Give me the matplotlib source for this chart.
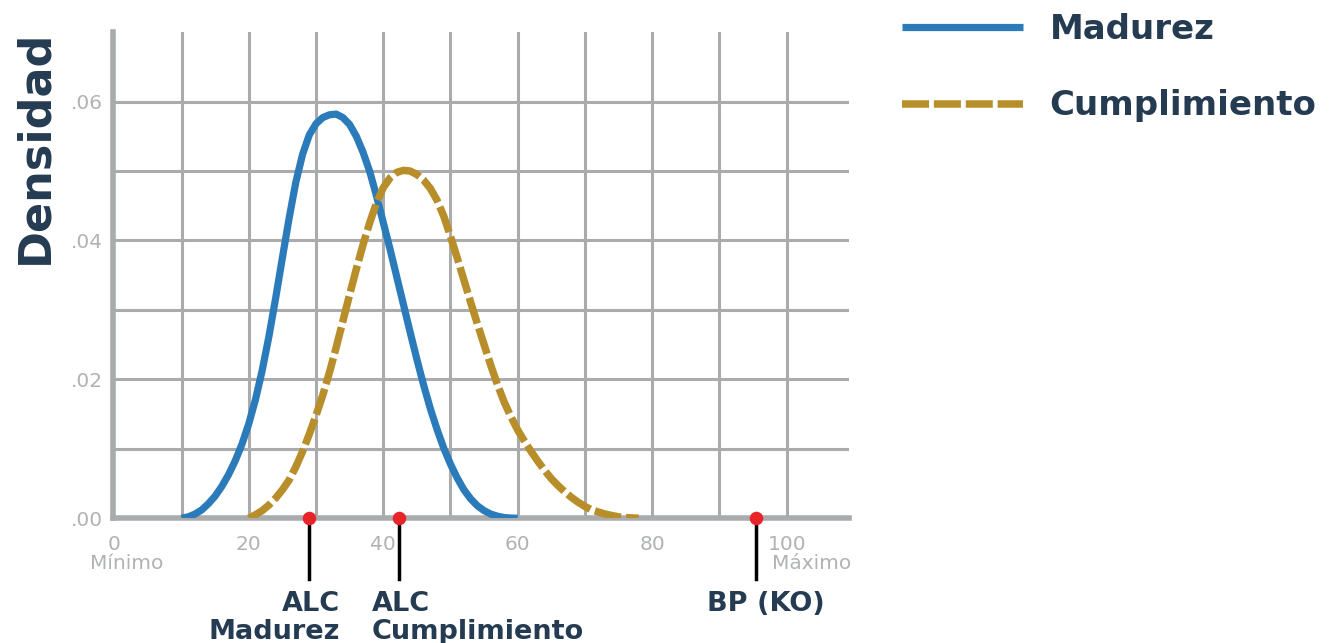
import matplotlib
matplotlib.use("Agg")
import matplotlib.pyplot as plt

plt.rcParams['font.family'] = ['DejaVu Sans']

# ---- data ----
madurez_x = list(range(10, 61))
madurez_y = [0.0, 0.0002, 0.0006, 0.0012, 0.0021, 0.0032, 0.0046, 0.0063, 0.0083, 0.0107,
             0.0136, 0.0171, 0.0213, 0.0262, 0.0317, 0.0375, 0.0432, 0.0484, 0.0524, 0.0552,
             0.0568, 0.0577, 0.0581, 0.0582, 0.0577, 0.0567, 0.0550, 0.0527, 0.0499, 0.0464,
             0.0426, 0.0388, 0.0348, 0.0308, 0.0268, 0.0229, 0.0192, 0.0158, 0.0128, 0.0101,
             0.0078, 0.0058, 0.0041, 0.0028, 0.0018, 0.0011, 0.0006, 0.0003, 0.0001, 0.00003,
             0.0]

cumpl_x = list(range(20, 79))
cumpl_y = [0.0, 0.0005, 0.0011, 0.0019, 0.0029, 0.0041, 0.0055, 0.0074, 0.0096, 0.0121,
           0.0148, 0.0177, 0.0210, 0.0246, 0.0284, 0.0322, 0.0359, 0.0394, 0.0426, 0.0454,
           0.0476, 0.0490, 0.0498, 0.0501, 0.0500, 0.0495, 0.0487, 0.0475, 0.0458, 0.0435,
           0.0406, 0.0375, 0.0343, 0.0311, 0.0280, 0.0250, 0.0220, 0.0192, 0.0167, 0.0146,
           0.0127, 0.0111, 0.0096, 0.0082, 0.0069, 0.0057, 0.0047, 0.0038, 0.0030, 0.0023,
           0.0017, 0.0012, 0.0009, 0.0006, 0.0004, 0.0002, 0.0001, 0.00005, 0.0]

marker_x = [28.9, 42.4, 95.4]
marker_labels = ["ALC\nMadurez", "ALC\nCumplimiento", "BP (KO)"]

xticks = [0, 20, 40, 60, 80, 100]
xtick_labels = ["0", "20", "40", "60", "80", "100"]
yticks = [0.0, 0.02, 0.04, 0.06]
ytick_labels = [".00", ".02", ".04", ".06"]

series_names = ["Madurez", "Cumplimiento"]

# ---- styling ----
BLUE = "#2b7bba"
GOLD = "#b88e2a"
RED = "#e8232a"
GRID = "#a9abad"
NAVY = "#253b52"
TICKC = "#b0b2b4"

fig = plt.figure(figsize=(13.35, 6.43), dpi=100)
ax = fig.add_axes([0.0846, 0.194, 0.551, 0.756])

ax.set_xlim(-0.2, 109.2)
ax.set_ylim(0, 0.07)

# grid
for gx in range(10, 101, 10):
    ax.axvline(gx, color=GRID, lw=2.2, zorder=1)
for gy in [0.01, 0.02, 0.03, 0.04, 0.05, 0.06]:
    ax.axhline(gy, color=GRID, lw=2.2, zorder=1)

for s in ['top', 'right']:
    ax.spines[s].set_visible(False)
for s in ['left', 'bottom']:
    ax.spines[s].set_color(GRID)
    ax.spines[s].set_linewidth(4)
    ax.spines[s].set_zorder(2)

l1, = ax.plot(madurez_x, madurez_y, color=BLUE, lw=5.2, solid_capstyle='butt',
              solid_joinstyle='round', zorder=4, label=series_names[0])
l2, = ax.plot(cumpl_x, cumpl_y, color=GOLD, lw=5.4, dashes=(3.6, 0.65),
              dash_capstyle='butt', zorder=5, label=series_names[1])

ax.set_xticks(xticks)
ax.set_xticklabels(xtick_labels)
ax.set_yticks(yticks)
ax.set_yticklabels(ytick_labels)
ax.tick_params(axis='both', length=0, colors=TICKC, labelsize=14.5)
ax.tick_params(axis='x', pad=12)
ax.tick_params(axis='y', pad=7)

ax.text(1.9, -0.0065, "Mínimo", ha='center', va='center', color=TICKC, fontsize=14.5,
        clip_on=False)
ax.text(97.8, -0.0065, "Máximo", ha='left', va='center', color=TICKC, fontsize=14.5,
        clip_on=False)

# markers and stems
ax.scatter(marker_x, [0] * len(marker_x), s=95, color=RED, zorder=7, clip_on=False,
           linewidths=0)
for mx in marker_x:
    ax.plot([mx, mx], [0, -0.0087], color="black", lw=2.5, zorder=6, clip_on=False)

label_style = dict(color=NAVY, fontsize=19.5, fontweight='bold', va='baseline', clip_on=False)
line1_y, line2_y = -0.0134, -0.01745
m_lines = marker_labels[0].split("\n")
c_lines = marker_labels[1].split("\n")
ax.text(33.6, line1_y, m_lines[0], ha='right', **label_style)
ax.text(33.6, line2_y, m_lines[1], ha='right', **label_style)
ax.text(38.3, line1_y, c_lines[0], ha='left', **label_style)
ax.text(38.3, line2_y, c_lines[1], ha='left', **label_style)
ax.text(96.95, line1_y, marker_labels[2], ha='center', **label_style)

fig.text(0.026, 0.772, "Densidad", rotation=90, ha='center', va='center', color=NAVY,
         fontsize=32, fontweight='bold')

leg = fig.legend(handles=[l1, l2], loc='upper left', bbox_to_anchor=(0.6525, 1.027),
                 frameon=False, fontsize=24.5, handlelength=3.56, handletextpad=0.78,
                 labelspacing=1.27)
for t in leg.get_texts():
    t.set_color(NAVY)
    t.set_fontweight('bold')

fig.savefig("out.png", dpi=100)
